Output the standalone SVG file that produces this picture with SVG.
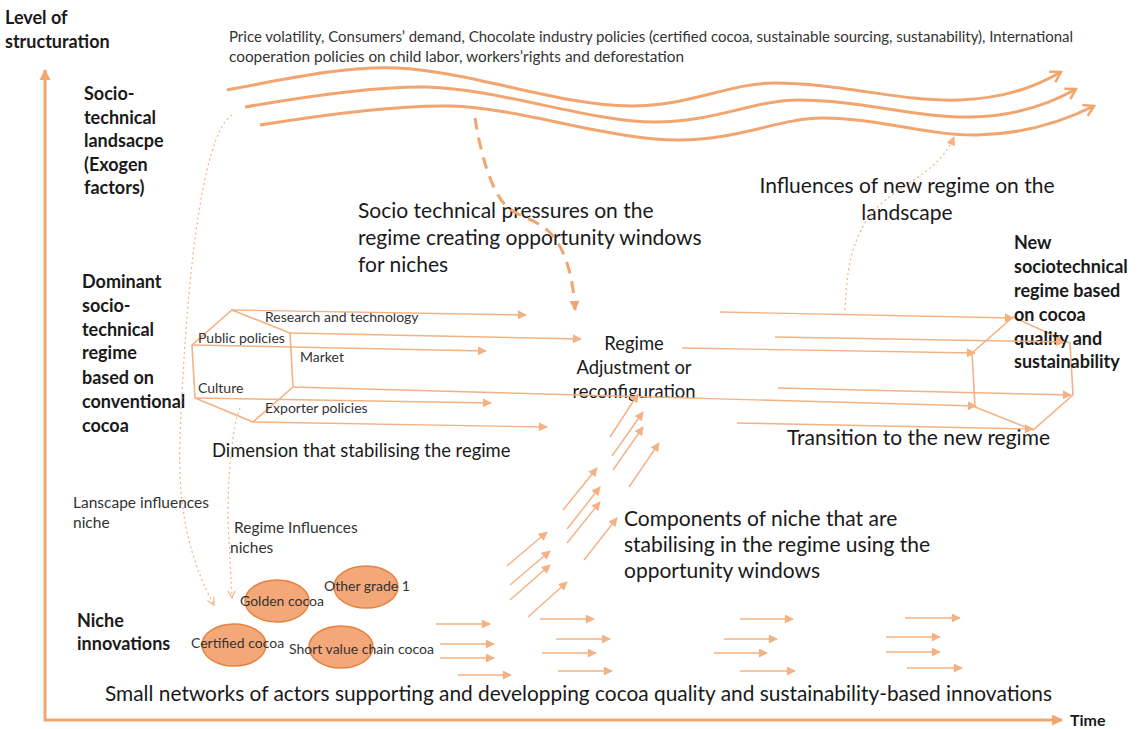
<svg xmlns="http://www.w3.org/2000/svg" width="1138" height="729" viewBox="0 0 1138 729">
<style>
  text { font-family: Lato, "Liberation Sans", sans-serif; fill: #1a1a1a; }
  .b { font-weight: bold; font-size: 18px; }
  .big { font-size: 21px; }
  .mid { font-size: 18.4px; }
  .sm { font-size: 14px; fill: #333; }
  .ell { font-size: 14px; fill: #333; }
  .axis { fill: none; stroke: #F2A56E; stroke-width: 3; }
  .wave { fill: none; stroke: #F2A56E; stroke-width: 3; }
  .thin { fill: none; stroke: #F4B183; stroke-width: 1.4; }
  .dot { fill: none; stroke: #F4B183; stroke-width: 1.2; stroke-dasharray: 2 3; }
  .dash { fill: none; stroke: #F2A56E; stroke-width: 3; stroke-dasharray: 12 8; }
  .hex { fill: none; stroke: #F4B183; stroke-width: 1.6; }
  .niche { fill: #F4A879; stroke: #E5823F; stroke-width: 1.5; }
</style>
<defs>
  <marker id="chev" viewBox="0 0 14 14" refX="12" refY="7" markerWidth="14" markerHeight="14" markerUnits="userSpaceOnUse" orient="auto">
    <path d="M2,1 L12,7 L2,13" fill="none" stroke="#F2A56E" stroke-width="2.5"/>
  </marker>
  <marker id="tri" viewBox="0 0 10 10" refX="9" refY="5" markerWidth="10" markerHeight="9" markerUnits="userSpaceOnUse" orient="auto">
    <path d="M0,0 L10,5 L0,10 z" fill="#F4B183"/>
  </marker>
  <marker id="axhead" viewBox="0 0 10 10" refX="9" refY="5" markerWidth="13" markerHeight="11" markerUnits="userSpaceOnUse" orient="auto">
    <path d="M0,0 L10,5 L0,10 z" fill="#F2A56E"/>
  </marker>
  <marker id="dhead" viewBox="0 0 10 10" refX="9" refY="5" markerWidth="11" markerHeight="10" markerUnits="userSpaceOnUse" orient="auto">
    <path d="M0,0 L10,5 L0,10 z" fill="#F2A56E"/>
  </marker>
  <marker id="vhead" viewBox="0 0 10 10" refX="9" refY="5" markerWidth="9" markerHeight="9" markerUnits="userSpaceOnUse" orient="auto">
    <path d="M1,1 L9,5 L1,9" fill="none" stroke="#F4B183" stroke-width="1.3"/>
  </marker>
</defs>
<rect width="1138" height="729" fill="#ffffff"/>

<g id="axes">
  <line class="axis" x1="45" y1="721" x2="45" y2="70" marker-end="url(#axhead)"/>
  <line class="axis" x1="44" y1="720" x2="1062" y2="720" marker-end="url(#axhead)"/>
  <text class="b" x="5" y="24">Level of</text>
  <text class="b" x="5" y="48">structuration</text>
  <text class="b" x="1070" y="726" style="font-size:16px">Time</text>
</g>

<g id="landscape">
  <text class="b" x="84" y="100">Socio-</text>
  <text class="b" x="84" y="124">technical</text>
  <text class="b" x="84" y="147">landsacpe</text>
  <text class="b" x="84" y="171">(Exogen</text>
  <text class="b" x="84" y="194">factors)</text>
  <text class="sm" x="229" y="42" textLength="844" lengthAdjust="spacingAndGlyphs" style="font-size:14.5px">Price volatility, Consumers’ demand, Chocolate industry policies (certified cocoa, sustainable sourcing, sustanability),  International</text>
  <text class="sm" x="229" y="62" textLength="455" lengthAdjust="spacingAndGlyphs" style="font-size:14.5px">cooperation policies on child labor, workers’rights  and deforestation</text>
</g>

<g id="regime-dominant">
  <text class="b" x="82" y="288">Dominant</text>
  <text class="b" x="82" y="312">socio-</text>
  <text class="b" x="82" y="336">technical</text>
  <text class="b" x="82" y="359">regime</text>
  <text class="b" x="82" y="384">based on</text>
  <text class="b" x="82" y="408">conventional</text>
  <text class="b" x="82" y="432">cocoa</text>
  <polygon class="hex" points="232,310 290,333 293,387 253,422 195,398 192,345"/>
  <text class="sm" x="265" y="322">Research and technology</text>
  <text class="sm" x="198" y="343">Public policies</text>
  <text class="sm" x="300" y="362">Market</text>
  <text class="sm" x="198" y="393">Culture</text>
  <text class="sm" x="265" y="413">Exporter policies</text>
  <text class="mid" x="212" y="457">Dimension  that stabilising the regime</text>
</g>

<g id="regime-adjustment">
  <text class="mid" x="634" y="350" text-anchor="middle">Regime</text>
  <text class="mid" x="634" y="374" text-anchor="middle">Adjustment or</text>
  <text class="mid" x="634" y="398" text-anchor="middle">reconfiguration</text>
</g>

<g id="regime-new">
  <polygon class="hex" points="1013,317 1070,343 1073,395 1033,430 975,407 972,353"/>
  <text class="b" x="1014" y="249">New</text>
  <text class="b" x="1014" y="273">sociotechnical</text>
  <text class="b" x="1014" y="297">regime based</text>
  <text class="b" x="1014" y="321">on cocoa</text>
  <text class="b" x="1014" y="345">quality and</text>
  <text class="b" x="1014" y="368">sustainability</text>
  <text class="big" x="787" y="445">Transition to the new regime</text>
</g>

<g id="niches">
  <text class="b" x="77" y="627">Niche</text>
  <text class="b" x="77" y="650">innovations</text>
  <ellipse class="niche" cx="277" cy="601" rx="32" ry="21"/>
  <ellipse class="niche" cx="366" cy="587" rx="32" ry="21"/>
  <ellipse class="niche" cx="234" cy="645" rx="32" ry="21"/>
  <ellipse class="niche" cx="341" cy="647" rx="32" ry="21"/>
  <text class="ell" x="240" y="606">Golden cocoa</text>
  <text class="ell" x="324" y="591">Other grade 1</text>
  <text class="ell" x="191" y="648">Certified cocoa</text>
  <text class="ell" x="289" y="654">Short value chain cocoa</text>
  <text class="big" x="105" y="701" textLength="947" lengthAdjust="spacingAndGlyphs">Small networks of actors supporting and developping cocoa quality and sustainability-based innovations</text>
</g>

<g id="annotations">
  <text class="big" x="358" y="218">Socio technical pressures on the</text>
  <text class="big" x="358" y="245">regime creating opportunity windows</text>
  <text class="big" x="358" y="272">for niches</text>
  <text class="big" x="907" y="193" text-anchor="middle">Influences of new regime on the</text>
  <text class="big" x="907" y="220" text-anchor="middle">landscape</text>
  <text class="big" x="624" y="526">Components of niche that are</text>
  <text class="big" x="624" y="552">stabilising in the regime using the</text>
  <text class="big" x="624" y="578">opportunity windows</text>
  <text class="sm" x="73" y="508" style="font-size:15.5px">Lanscape influences</text>
  <text class="sm" x="73" y="528" style="font-size:15.5px">niche</text>
  <text class="sm" x="234" y="533" style="font-size:15.5px">Regime Influences</text>
  <text class="sm" x="230" y="553" style="font-size:15.5px">niches</text>
</g>

<g id="connectors">
  <!-- landscape waves -->
  <path class="wave" marker-end="url(#chev)" d="M227,90 C300,76 350,66 397,68 C470,71 560,106 631,106 C690,106 730,83 774,83 C840,83 900,102 960,100 C1010,98 1040,84 1061,72"/>
  <path class="wave" marker-end="url(#chev)" d="M245,107 C320,94 380,86 427,87 C500,89 590,122 655,122 C715,122 755,100 798,100 C860,100 915,118 971,117 C1020,116 1055,101 1076,89"/>
  <path class="wave" marker-end="url(#chev)" d="M260,125 C340,112 400,105 451,106 C520,108 610,140 678,140 C740,140 780,118 822,118 C880,118 930,136 977,135 C1030,134 1070,118 1094,106"/>
  <!-- landscape pressure on regime -->
  <path class="dash" marker-end="url(#dhead)" d="M475,118 C480,150 490,190 507,207 C520,218 540,220 552,235 C565,250 573,275 575,310"/>
  <!-- new regime influences landscape -->
  <path class="dot" marker-end="url(#tri)" d="M845,310 C847,270 850,245 870,215 C895,185 938,175 954,137"/>
  <!-- landscape influences niche -->
  <path class="dot" marker-end="url(#vhead)" d="M232,115 C200,135 185,300 180,440 C177,520 195,570 214,605"/>
  <!-- regime influences niches -->
  <path class="dot" marker-end="url(#vhead)" d="M240,408 C232,430 228,470 228,520 L232,598"/>
  <!-- dominant regime dimensions -->
  <line class="thin" marker-end="url(#tri)" x1="232" y1="310" x2="526" y2="315"/>
  <line class="thin" marker-end="url(#tri)" x1="290" y1="333" x2="581" y2="339"/>
  <line class="thin" marker-end="url(#tri)" x1="192" y1="345" x2="486" y2="351"/>
  <line class="thin" marker-end="url(#tri)" x1="293" y1="387" x2="976" y2="406"/>
  <line class="thin" marker-end="url(#tri)" x1="195" y1="398" x2="491" y2="403"/>
  <line class="thin" marker-end="url(#tri)" x1="253" y1="422" x2="547" y2="427"/>
  <!-- transition to new regime -->
  <line class="thin" marker-end="url(#tri)" x1="720" y1="312" x2="1013" y2="318"/>
  <line class="thin" marker-end="url(#tri)" x1="775" y1="337" x2="1064" y2="342"/>
  <line class="thin" marker-end="url(#tri)" x1="682" y1="348" x2="975" y2="353"/>
  <line class="thin" marker-end="url(#tri)" x1="778" y1="388" x2="1071" y2="395"/>
  <line class="thin" marker-end="url(#tri)" x1="737" y1="423" x2="1033" y2="429"/>
  <!-- niche components moving up -->
  <line class="thin" marker-end="url(#tri)" x1="610" y1="437" x2="638" y2="394"/>
  <line class="thin" marker-end="url(#tri)" x1="612" y1="456" x2="643" y2="412"/>
  <line class="thin" marker-end="url(#tri)" x1="613" y1="470" x2="643" y2="427"/>
  <line class="thin" marker-end="url(#tri)" x1="629" y1="487" x2="659" y2="443"/>
  <line class="thin" marker-end="url(#tri)" x1="563" y1="510" x2="597" y2="468"/>
  <line class="thin" marker-end="url(#tri)" x1="567" y1="529" x2="600" y2="487"/>
  <line class="thin" marker-end="url(#tri)" x1="567" y1="543" x2="600" y2="502"/>
  <line class="thin" marker-end="url(#tri)" x1="584" y1="560" x2="617" y2="518"/>
  <line class="thin" marker-end="url(#tri)" x1="507" y1="566" x2="547" y2="532"/>
  <line class="thin" marker-end="url(#tri)" x1="510" y1="585" x2="550" y2="551"/>
  <line class="thin" marker-end="url(#tri)" x1="510" y1="600" x2="550" y2="565"/>
  <line class="thin" marker-end="url(#tri)" x1="528" y1="617" x2="567" y2="582"/>
  <!-- niche networks -->
  <line class="thin" marker-end="url(#tri)" x1="436" y1="624" x2="490" y2="624"/>
  <line class="thin" marker-end="url(#tri)" x1="440" y1="644" x2="494" y2="644"/>
  <line class="thin" marker-end="url(#tri)" x1="440" y1="658" x2="494" y2="658"/>
  <line class="thin" marker-end="url(#tri)" x1="458" y1="675" x2="511" y2="675"/>
  <line class="thin" marker-end="url(#tri)" x1="540" y1="619" x2="594" y2="619"/>
  <line class="thin" marker-end="url(#tri)" x1="556" y1="639" x2="610" y2="639"/>
  <line class="thin" marker-end="url(#tri)" x1="542" y1="653" x2="596" y2="653"/>
  <line class="thin" marker-end="url(#tri)" x1="558" y1="671" x2="612" y2="671"/>
  <line class="thin" marker-end="url(#tri)" x1="740" y1="619" x2="793" y2="619"/>
  <line class="thin" marker-end="url(#tri)" x1="724" y1="639" x2="777" y2="639"/>
  <line class="thin" marker-end="url(#tri)" x1="714" y1="653" x2="767" y2="653"/>
  <line class="thin" marker-end="url(#tri)" x1="740" y1="671" x2="795" y2="671"/>
  <line class="thin" marker-end="url(#tri)" x1="905" y1="618" x2="960" y2="618"/>
  <line class="thin" marker-end="url(#tri)" x1="886" y1="637" x2="940" y2="637"/>
  <line class="thin" marker-end="url(#tri)" x1="886" y1="652" x2="940" y2="652"/>
  <line class="thin" marker-end="url(#tri)" x1="907" y1="668" x2="962" y2="668"/>
</g>
</svg>
